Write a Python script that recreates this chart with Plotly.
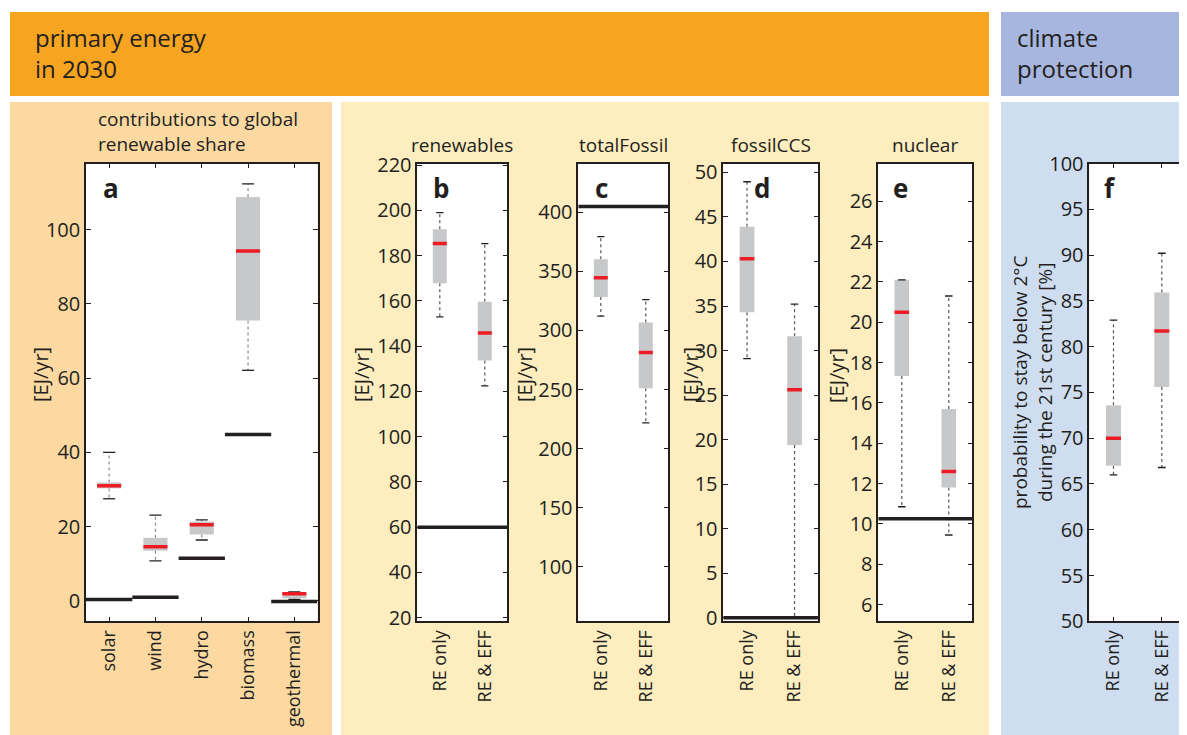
import plotly.graph_objects as go

# ---------------- data ----------------
a_cats = ["solar", "wind", "hydro", "biomass", "geothermal"]
a_lower = [27.5, 10.8, 16.4, 62.1, 0.4]
a_q1 = [30.3, 13.5, 17.9, 75.5, 0.7]
a_med = [31.0, 14.6, 20.5, 94.2, 1.9]
a_q3 = [31.9, 17.0, 21.4, 108.8, 2.2]
a_upper = [40.0, 23.1, 21.8, 112.3, 2.4]
a_ref = [0.4, 1.0, 11.5, 44.8, -0.2]

scenarios = ["RE only", "RE & EFF"]

b_lower = [152.9, 122.4]
b_q1 = [167.8, 133.6]
b_med = [185.3, 145.8]
b_q3 = [191.6, 159.6]
b_upper = [199.0, 185.3]
b_ref = 60.0

c_lower = [312.1, 221.8]
c_q1 = [328.2, 251.1]
c_med = [344.6, 281.4]
c_q3 = [360.2, 306.8]
c_upper = [379.4, 326.0]
c_ref = 404.8

d_lower = [29.1, 0.0]
d_q1 = [34.3, 19.4]
d_med = [40.3, 25.6]
d_q3 = [43.9, 31.6]
d_upper = [48.95, 35.2]
d_ref = 0.0

e_lower = [10.85, 9.45]
e_q1 = [17.33, 11.8]
e_med = [20.5, 12.6]
e_q3 = [22.1, 15.7]
e_upper = [22.1, 21.3]
e_ref = 10.25

f_lower = [66.0, 66.8]
f_q1 = [67.0, 75.6]
f_med = [70.0, 81.7]
f_q3 = [73.6, 85.9]
f_upper = [82.9, 90.2]

a_ticks = [0, 20, 40, 60, 80, 100]
b_ticks = [20, 40, 60, 80, 100, 120, 140, 160, 180, 200, 220]
c_ticks = [100, 150, 200, 250, 300, 350, 400]
d_ticks = [0, 5, 10, 15, 20, 25, 30, 35, 40, 45, 50]
e_ticks = [6, 8, 10, 12, 14, 16, 18, 20, 22, 24, 26]
f_ticks = [50, 55, 60, 65, 70, 75, 80, 85, 90, 95, 100]

# ---------------- style ----------------
OFF = 8                     # page body margin of the html page
W, H = 1187 - OFF, 735 - OFF
FONT = "Open Sans"
TXT = "#231F20"
BOXGRAY = "#C7C8CA"
RED = "#ED1C24"
ORANGE = "#F7A520"
HBLUE = "#A7B6DE"
PEACH = "#FDD9A2"
YELLOW = "#FDEDBF"
LBLUE = "#CFDDF0"


def px(x):
    return (x - OFF) / W


def py(y):
    return 1 - (y - OFF) / H


fig = go.Figure()


def add_panel(idx, lower, q1, med, q3, upper, hw, cw, wcol, ref=None, ref_per_cat=False):
    xa = "x" if idx == 1 else "x%d" % idx
    ya = "y" if idx == 1 else "y%d" % idx
    n = len(med)
    # whiskers
    wx, wy = [], []
    for i in range(n):
        x = i + 1
        wx += [x, x, None, x, x, None]
        wy += [q3[i], upper[i], None, q1[i], lower[i], None]
    fig.add_trace(go.Scatter(x=wx, y=wy, mode="lines", xaxis=xa, yaxis=ya,
                             line=dict(color=wcol, width=1.2, dash="3px,3px"),
                             hoverinfo="skip", showlegend=False))
    # boxes
    for i in range(n):
        x = i + 1
        fig.add_trace(go.Scatter(x=[x - hw, x + hw, x + hw, x - hw, x - hw],
                                 y=[q1[i], q1[i], q3[i], q3[i], q1[i]],
                                 mode="lines", fill="toself", fillcolor=BOXGRAY,
                                 line=dict(width=0, color=BOXGRAY), xaxis=xa, yaxis=ya,
                                 hoverinfo="skip", showlegend=False))
    # caps
    cx, cy = [], []
    for i in range(n):
        x = i + 1
        cx += [x - cw, x + cw, None, x - cw, x + cw, None]
        cy += [upper[i], upper[i], None, lower[i], lower[i], None]
    fig.add_trace(go.Scatter(x=cx, y=cy, mode="lines", xaxis=xa, yaxis=ya,
                             line=dict(color=TXT, width=1.3),
                             hoverinfo="skip", showlegend=False))
    # medians
    mx, my = [], []
    for i in range(n):
        x = i + 1
        mx += [x - hw, x + hw, None]
        my += [med[i], med[i], None]
    fig.add_trace(go.Scatter(x=mx, y=my, mode="lines", xaxis=xa, yaxis=ya,
                             line=dict(color=RED, width=3.5),
                             hoverinfo="skip", showlegend=False))
    # reference (current) level
    if ref is not None:
        rx, ry = [], []
        if ref_per_cat:
            for i in range(n):
                x = i + 1
                rx += [x - 0.5, x + 0.5, None]
                ry += [ref[i], ref[i], None]
        else:
            rx = [0.5, n + 0.5]
            ry = [ref, ref]
        fig.add_trace(go.Scatter(x=rx, y=ry, mode="lines", xaxis=xa, yaxis=ya,
                                 line=dict(color=TXT, width=3.5),
                                 hoverinfo="skip", showlegend=False))


add_panel(1, a_lower, a_q1, a_med, a_q3, a_upper, 0.26, 0.13, "#8C8C8C", a_ref, True)
add_panel(2, b_lower, b_q1, b_med, b_q3, b_upper, 0.155, 0.08, "#555555", b_ref)
add_panel(3, c_lower, c_q1, c_med, c_q3, c_upper, 0.155, 0.08, "#555555", c_ref)
add_panel(4, d_lower, d_q1, d_med, d_q3, d_upper, 0.155, 0.08, "#555555", d_ref)
add_panel(5, e_lower, e_q1, e_med, e_q3, e_upper, 0.155, 0.08, "#555555", e_ref)
add_panel(6, f_lower, f_q1, f_med, f_q3, f_upper, 0.155, 0.08, "#555555")

# panel geometry (pixels in the reference picture)
boxes = [
    (86, 317.5),
    (417.3, 507.3),
    (578.3, 668.3),
    (723.3, 818.3),
    (878.3, 972.3),
    (1089.3, 1186),
]
TOP, BOT = 163.5, 621.3
yranges = [[-5.5, 117.8], [18.4, 220.7], [54, 441.2], [-0.4, 51.0], [5.17, 27.87], [50, 100]]
ytickss = [a_ticks, b_ticks, c_ticks, d_ticks, e_ticks, f_ticks]
xcats = [a_cats, scenarios, scenarios, scenarios, scenarios, scenarios]
xticks_on = [True, False, False, False, False, True]

layout = dict(
    width=W, height=H, autosize=False,
    margin=dict(l=0, r=0, t=0, b=0, pad=0),
    paper_bgcolor="white", plot_bgcolor="white",
    showlegend=False,
    font=dict(family=FONT, color=TXT),
)

for k in range(6):
    sfx = "" if k == 0 else str(k + 1)
    x0, x1 = boxes[k]
    n = len(xcats[k])
    layout["xaxis" + sfx] = dict(
        domain=[px(x0), px(x1)], anchor="y" + sfx, automargin=False,
        range=[0.5, n + 0.5], tickmode="array",
        tickvals=list(range(1, n + 1)), ticktext=xcats[k],
        tickangle=-90, tickfont=dict(size=18, family=FONT, color=TXT),
        ticks="inside" if xticks_on[k] else "", ticklen=5, tickwidth=1.2, tickcolor=TXT,
        showline=True, linecolor=TXT, linewidth=1.5, mirror="ticks" if xticks_on[k] else True,
        showgrid=False, zeroline=False, fixedrange=True,
    )
    layout["yaxis" + sfx] = dict(
        domain=[py(BOT), py(TOP)], anchor="x" + sfx, automargin=False,
        range=yranges[k], tickmode="array", tickvals=ytickss[k],
        tickfont=dict(size=20, family=FONT, color=TXT),
        ticks="inside", ticklen=5, tickwidth=1.2, tickcolor=TXT,
        showline=True, linecolor=TXT, linewidth=1.5, mirror="ticks",
        showgrid=False, zeroline=False, fixedrange=True,
    )

# background panels
shapes = []


def rect(x0, y0, x1, y1, col):
    shapes.append(dict(type="rect", xref="paper", yref="paper", layer="below",
                       x0=px(x0), x1=px(x1), y0=py(y1), y1=py(y0),
                       fillcolor=col, line=dict(width=0)))


rect(10, 12, 989, 96, ORANGE)
rect(1001, 12, 1190, 96, HBLUE)
rect(10, 102, 332, 740, PEACH)
rect(341, 102, 989, 740, YELLOW)
rect(1001, 102, 1190, 740, LBLUE)
for (x0, x1) in boxes:
    rect(x0, TOP, x1, BOT, "white")
layout["shapes"] = shapes

# annotations
ann = []


def text(x, y, s, size, xanchor="center", angle=0, bold=False, align="center"):
    ann.append(dict(xref="paper", yref="paper", x=px(x), y=py(y), text=s,
                    showarrow=False, xanchor=xanchor, yanchor="middle",
                    textangle=angle, align=align,
                    font=dict(family=FONT, size=size, color=TXT,
                              weight="bold" if bold else "normal")))


text(33, 53, "primary energy<br>in 2030", 24, xanchor="left", align="left")
text(1015, 53, "climate<br>protection", 24, xanchor="left", align="left")
text(96, 131, "contributions to global<br>renewable share", 19, xanchor="left", align="left")
text(462, 145, "renewables", 19)
text(623, 145, "totalFossil", 19)
text(771, 145, "fossilCCS", 19)
text(925, 145, "nuclear", 19)

for lx, lt in [(111, "a"), (441, "b"), (601, "c"), (762, "d"), (900, "e"), (1110, "f")]:
    text(lx, 188, lt, 26, bold=True)

for yx in [40, 361, 524, 690, 836]:
    text(yx, 375, "[EJ/yr]", 20, angle=-90)
text(1032, 383, "probability to stay below 2°C<br>during the 21st century [%]", 19, angle=-90)

layout["annotations"] = ann
fig.update_layout(**layout)
fig.write_html("out.html")
